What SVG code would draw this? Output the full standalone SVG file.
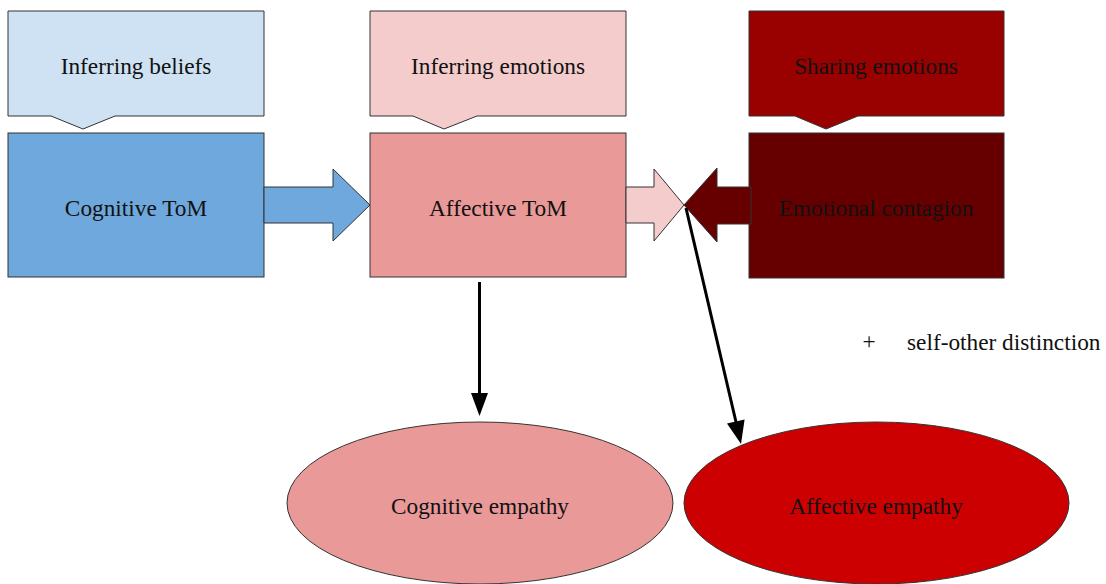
<svg xmlns="http://www.w3.org/2000/svg" width="1106" height="584" viewBox="0 0 1106 584">
<style>
.s{stroke:#333;stroke-width:1}
text{font-family:"Liberation Serif","Times New Roman",serif;font-size:23.3px;fill:#111;text-anchor:middle}
.c{stroke:#000;stroke-width:3;fill:none}
.h{fill:#000;stroke:none}
</style>
<rect width="1106" height="584" fill="#fff"/>
<g id="callout-beliefs">
<path class="s" fill="#cfe2f3" d="M8,11 H264 V116 H115 L83,129 L51,116 H8 Z"/>
<text x="136" y="74">Inferring beliefs</text>
</g>
<g id="callout-emotions">
<path class="s" fill="#f4cccc" d="M370,11 H626 V116 H477 L444,129 L413,116 H370 Z"/>
<text x="498" y="74">Inferring emotions</text>
</g>
<g id="callout-sharing">
<path class="s" fill="#990000" d="M749,11 H1004 V116 H858 L826,129 L795,116 H749 Z"/>
<text x="876" y="74">Sharing emotions</text>
</g>
<g id="cognitive-tom">
<rect class="s" x="8" y="133" width="256" height="144" fill="#6fa8dc"/>
<text x="136" y="216">Cognitive ToM</text>
</g>
<g id="affective-tom">
<rect class="s" x="370" y="133" width="256" height="144" fill="#ea9999"/>
<text x="498" y="216">Affective ToM</text>
</g>
<g id="emotional-contagion">
<rect class="s" x="749" y="133" width="255" height="145" fill="#660000"/>
<text x="876" y="216">Emotional contagion</text>
</g>
<g id="cognitive-empathy">
<ellipse class="s" cx="480" cy="503" rx="193" ry="81" fill="#ea9999"/>
<text x="480" y="514">Cognitive empathy</text>
</g>
<g id="affective-empathy">
<ellipse class="s" cx="876.5" cy="503" rx="192.5" ry="81" fill="#cc0000"/>
<text x="876" y="514">Affective empathy</text>
</g>
<g id="self-other">
<text x="869" y="349" fill="#333">+</text>
<text x="907" y="350" style="text-anchor:start">self-other distinction</text>
</g>
<g id="connectors">
<polygon class="s" fill="#6fa8dc" points="264,187 333,187 333,169 370,205 333,241 333,223 264,223"/>
<polygon class="s" fill="#f4cccc" points="626,187 654,187 654,169 684,205 654,241 654,223 626,223"/>
<polygon class="s" fill="#660000" points="751,187 717,187 717,168 684,205 717,242 717,224 751,224"/>
<line class="c" x1="479.5" y1="282" x2="479.5" y2="394"/>
<polygon class="h" points="471,393 488,393 479.5,416"/>
<line class="c" x1="686" y1="208" x2="736" y2="422"/>
<polygon class="h" points="744.6,419.6 727,423.6 741,444"/>
</g>
</svg>
